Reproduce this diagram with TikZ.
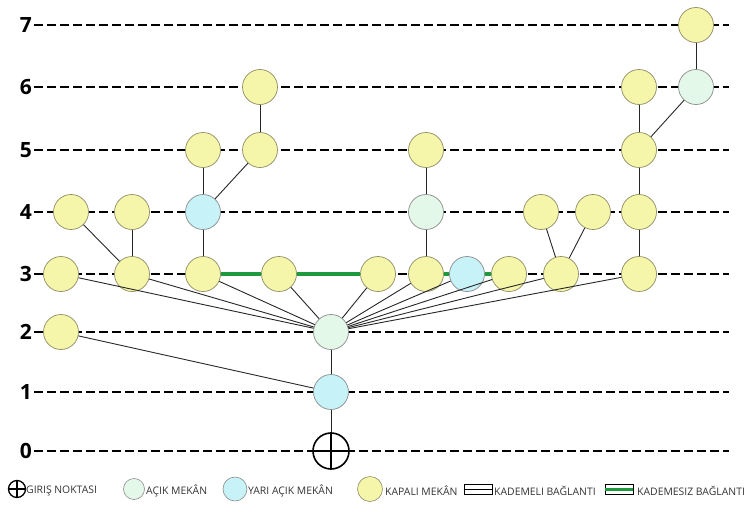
\documentclass[tikz,border=0pt]{standalone}
\usepackage{fontspec}
\setmainfont{Open Sans}
\begin{document}
\begin{tikzpicture}[x=1pt,y=-1pt,
  lvl/.style={line width=2.4pt,dash pattern=on 8.5pt off 4.5pt},
  lvlnum/.style={font=\fontsize{21}{21}\selectfont\bfseries,anchor=east,inner sep=0pt},
  sp/.style={circle,minimum size=35pt,inner sep=0pt,line width=0.7pt},
  kapali/.style={sp,fill=kap,draw=kapb},
  acik/.style={sp,fill=acik,draw=black!45},
  yari/.style={sp,fill=yari,draw=black!45},
  edge/.style={draw=black!85,line width=0.9pt},
  gedge/.style={draw=grn,line width=4pt},
  leg/.style={font=\fontsize{10.4}{11}\selectfont,anchor=west,inner sep=0pt,text=black!80}
]
\definecolor{kap}{HTML}{F6F6AA}
\definecolor{kapb}{HTML}{8E8E66}
\definecolor{acik}{HTML}{E4F8EA}
\definecolor{yari}{HTML}{C6F2F8}
\definecolor{grn}{HTML}{1E9A3E}
\useasboundingbox (0,0) rectangle (747,512);
% levels
\foreach \l/\yy in {7/25,6/87,5/150,4/212,3/274,2/332,1/392,0/451}{
  \node[lvlnum] (n\l) at (32,\yy) {\l};
  \draw[lvl] (n\l.east) ++(2,0) -- (729,\yy);
}
% nodes
\node[kapali] (a7) at (696,25) {};
\node[kapali] (a6a) at (260,87) {};
\node[kapali] (a6b) at (639,87) {};
\node[acik] (a6c) at (696,87) {};
\node[kapali] (a5a) at (203,150) {};
\node[kapali] (a5b) at (260,150) {};
\node[kapali] (a5c) at (426,150) {};
\node[kapali] (a5d) at (639,150) {};
\node[kapali] (a4a) at (71,212) {};
\node[kapali] (a4b) at (132,212) {};
\node[yari] (a4c) at (203,212) {};
\node[acik] (a4d) at (426,212) {};
\node[kapali] (a4e) at (541,212) {};
\node[kapali] (a4f) at (593,212) {};
\node[kapali] (a4g) at (639,212) {};
\node[kapali] (a3a) at (61,274) {};
\node[kapali] (a3b) at (132,274) {};
\node[kapali] (a3c) at (203,274) {};
\node[kapali] (a3d) at (279,274) {};
\node[kapali] (a3e) at (378,274) {};
\node[kapali] (a3f) at (426,274) {};
\node[yari] (a3g) at (467,274) {};
\node[kapali] (a3h) at (509,274) {};
\node[kapali] (a3i) at (561,274) {};
\node[kapali] (a3j) at (639,274) {};
\node[kapali] (a2a) at (61,332) {};
\node[acik] (c2) at (331,332) {};
\node[yari] (c1) at (331,392) {};
\node[circle,minimum size=36pt,inner sep=0pt,draw=black,line width=1.6pt] (c0) at (331,451) {};
\draw[line width=1.6pt] (c0.north) -- (c0.south) (c0.west) -- (c0.east);
% green connections
\draw[gedge] (a3c) -- (a3d);
\draw[gedge] (a3d) -- (a3e);
\draw[gedge] (a3f) -- (a3g);
\draw[gedge] (a3g) -- (a3h);
% edges
\draw[edge] (a4a) -- (a3b);
\draw[edge] (a4b) -- (a3b);
\draw[edge] (a4c) -- (a3c);
\draw[edge] (a4c) -- (a5a);
\draw[edge] (a4c) -- (a5b);
\draw[edge] (a5b) -- (a6a);
\draw[edge] (a3f) -- (a4d);
\draw[edge] (a4d) -- (a5c);
\draw[edge] (a3i) -- (a4e);
\draw[edge] (a3i) -- (a4f);
\draw[edge] (a3j) -- (a4g);
\draw[edge] (a4g) -- (a5d);
\draw[edge] (a5d) -- (a6b);
\draw[edge] (a5d) -- (a6c);
\draw[edge] (a6c) -- (a7);
\foreach \n in {a3a,a3b,a3c,a3d,a3e,a3f,a3g,a3h,a3i,a3j}{
  \draw[edge] (\n) -- (c2);
}
\draw[edge] (a2a) -- (c1);
\draw[edge] (c2) -- (c1);
\draw[edge] (c1) -- (c0);
% legend
\node[circle,minimum size=17pt,inner sep=0pt,draw=black,line width=1.3pt] (l0) at (17,489) {};
\draw[line width=1.3pt] (l0.north) -- (l0.south) (l0.west) -- (l0.east);
\node[leg] (t0) at (26,491) {GIRIŞ NOKTASI};
\node[circle,minimum size=21pt,inner sep=0pt,draw=black!45,line width=0.6pt,fill=acik] (l1) at (134,489) {};
\node[leg] (t1) at (146,491) {AÇIK MEKÂN};
\node[circle,minimum size=24pt,inner sep=0pt,draw=black!45,line width=0.6pt,fill=yari] (l2) at (235,489) {};
\node[leg] (t2) at (248,491) {YARI AÇIK MEKÂN};
\node[circle,minimum size=25pt,inner sep=0pt,draw=kapb,line width=0.6pt,fill=kap] (l3) at (370,489) {};
\node[leg] (t3) at (385,491) {KAPALI MEKÂN};
\node[draw=black,line width=0.9pt,minimum width=28pt,minimum height=10pt,inner sep=0pt] (l4) at (478,489) {};
\draw[line width=0.9pt] (l4.west) -- (l4.east);
\node[leg] (t4) at (494,491) {KADEMELI BAĞLANTI};
\node[draw=black,line width=0.9pt,minimum width=28pt,minimum height=10pt,inner sep=0pt] (l5) at (619,489) {};
\draw[grn,line width=3pt] (l5.west) -- (l5.east);
\node[leg] (t5) at (637,491) {KADEMESIZ BAĞLANTI};
\end{tikzpicture}
\end{document}
